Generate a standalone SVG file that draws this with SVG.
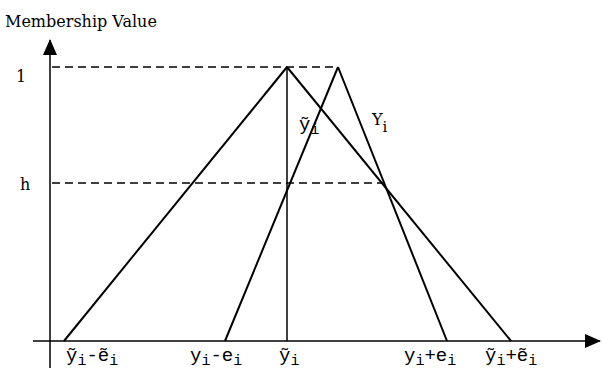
<svg xmlns="http://www.w3.org/2000/svg" width="603" height="370" viewBox="0 0 603 370">
<style>
.t{font-family:"DejaVu Serif","Liberation Serif",serif;font-size:16px;fill:#000}
.m{font-family:"Liberation Mono","DejaVu Sans Mono",monospace;font-size:19px;fill:#000}
.s{font-size:15px}
.ln{stroke:#000;stroke-width:2;fill:none}
.thin{stroke:#000;stroke-width:1.5;fill:none}
.dash{stroke:#000;stroke-width:1.5;stroke-dasharray:8,5;fill:none}
</style>
<defs>
<marker id="ahl" markerWidth="16" markerHeight="14" refX="15" refY="7" orient="auto" markerUnits="userSpaceOnUse">
<path d="M0,0 L16,7 L0,14 Z" fill="#000"/>
</marker>
</defs>
<g id="axes">
<line class="thin" x1="50" y1="368" x2="50" y2="40" marker-end="url(#ahl)"/>
<line class="thin" x1="33" y1="341" x2="600" y2="341" marker-end="url(#ahl)"/>
</g>
<g id="connectors">
<line class="dash" x1="52" y1="67" x2="338" y2="67"/>
<line class="dash" x1="52" y1="183" x2="383" y2="183"/>
<line class="ln" x1="64" y1="341" x2="287" y2="67"/>
<line class="ln" x1="287" y1="67" x2="511" y2="341"/>
<line class="thin" x1="287" y1="67" x2="287" y2="341"/>
<line class="ln" x1="225" y1="341" x2="338" y2="67"/>
<line class="ln" x1="338" y1="67" x2="447" y2="341"/>
</g>
<g id="labels">
<text class="t" x="5" y="27">Membership Value</text>
<text class="t" x="16" y="82" font-size="17">1</text>
<text class="t" x="20" y="190" font-size="18">h</text>
<text class="m" x="299" y="130">ỹ<tspan class="s" dy="4">i</tspan></text>
<text class="t" x="372" y="125" font-size="19">Y<tspan font-size="15" dy="7">i</tspan></text>
<text class="m" x="66" y="361">ỹ<tspan class="s" dy="4">i</tspan><tspan dy="-4">-ẽ</tspan><tspan class="s" dy="4">i</tspan></text>
<text class="m" x="190" y="361">y<tspan class="s" dy="4">i</tspan><tspan dy="-4">-e</tspan><tspan class="s" dy="4">i</tspan></text>
<text class="m" x="279" y="361">ỹ<tspan class="s" dy="4">i</tspan></text>
<text class="m" x="404" y="361">y<tspan class="s" dy="4">i</tspan><tspan dy="-4">+e</tspan><tspan class="s" dy="4">i</tspan></text>
<text class="m" x="485" y="361">ỹ<tspan class="s" dy="4">i</tspan><tspan dy="-4">+ẽ</tspan><tspan class="s" dy="4">i</tspan></text>
</g>
</svg>
